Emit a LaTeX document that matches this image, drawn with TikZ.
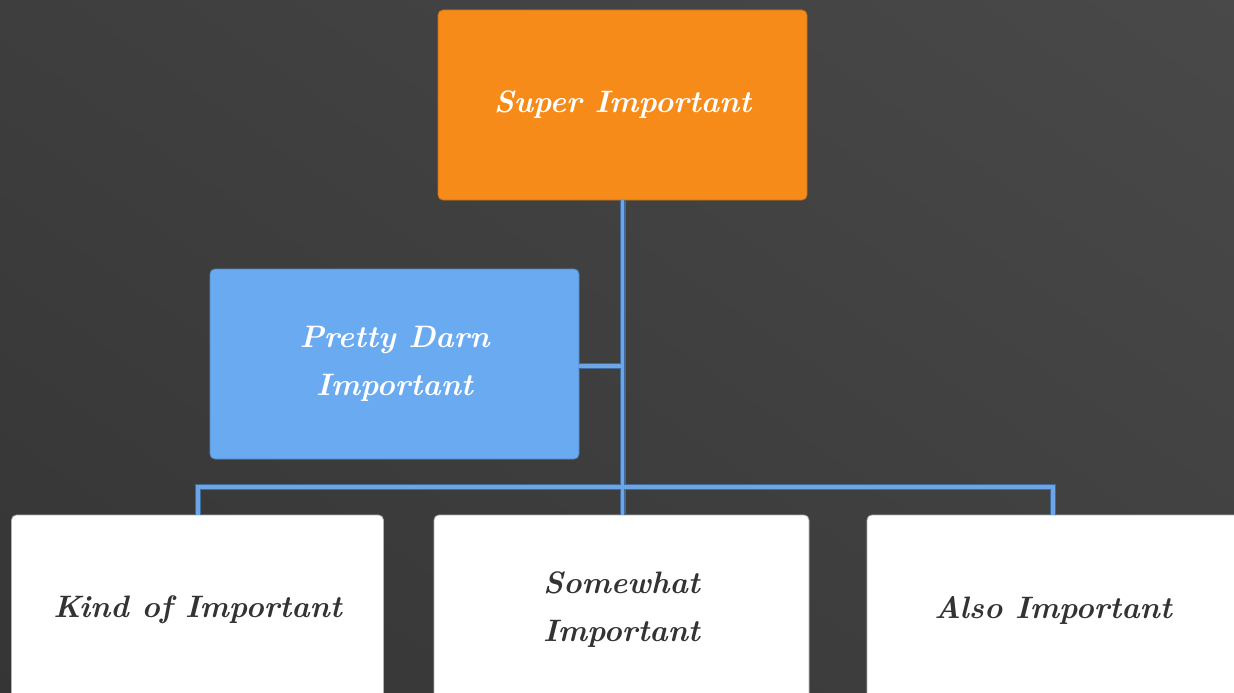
\documentclass[tikz,border=0pt]{standalone}
\usepackage{fontspec}
\setmainfont{Latin Modern Roman}
\definecolor{bgA}{HTML}{343434}
\definecolor{bgB}{HTML}{4A4A4A}
\definecolor{orangebox}{HTML}{F68B1A}
\definecolor{bluebox}{HTML}{6AAAF0}
\definecolor{linkblue}{HTML}{6DA6E6}
\definecolor{linkedge}{HTML}{3F6A9A}
\definecolor{darktext}{HTML}{333333}
\tikzset{
  box/.style={rectangle, rounded corners=5pt, minimum width=369pt, minimum height=190pt,
    inner sep=0pt, align=center, font=\fontsize{31}{48}\selectfont\bfseries\itshape},
  topbox/.style={box, fill=orangebox, draw=orangebox!80!black, line width=0.8pt, text=white},
  midbox/.style={box, fill=bluebox, draw=bluebox!80!black, line width=0.8pt, text=white},
  lowbox/.style={box, fill=white, draw=gray!60, line width=0.8pt, text=darktext, minimum width=372pt},
  linkback/.style={draw=linkedge, line width=6pt},
  link/.style={draw=linkblue, line width=3.5pt}
}
\begin{document}
\begin{tikzpicture}[x=1pt,y=-1pt]
\useasboundingbox (0,0) rectangle (1234,693);
\clip (0,0) rectangle (1234,693);
\shade[shading=axis, top color=bgB, bottom color=bgA, shading angle=-35] (-200,-300) rectangle (1434,993);
% nodes
\node[topbox] (top) at (622.5,105) {Super Important};
\node[midbox] (pdi) at (394.5,364) {Pretty Darn\\Important};
\node[lowbox] (kind) at (197.5,610) {Kind of Important};
\node[lowbox, minimum width=375pt] (some) at (621.5,610) {Somewhat\\Important};
\node[lowbox] (also) at (1053,610) {Also Important};
\coordinate (busL) at (198,487);
\coordinate (busR) at (1053,487);
% connectors
\foreach \s in {linkback, link}{
  \path[\s] (top.south) -- (top.south |- some.north);
  \path[\s] (pdi.east |- 0,366) -- (top.south |- 0,366);
  \path[\s] (kind.north -| busL) -- (busL) -- (busR) -- (also.north);
}
\end{tikzpicture}
\end{document}
